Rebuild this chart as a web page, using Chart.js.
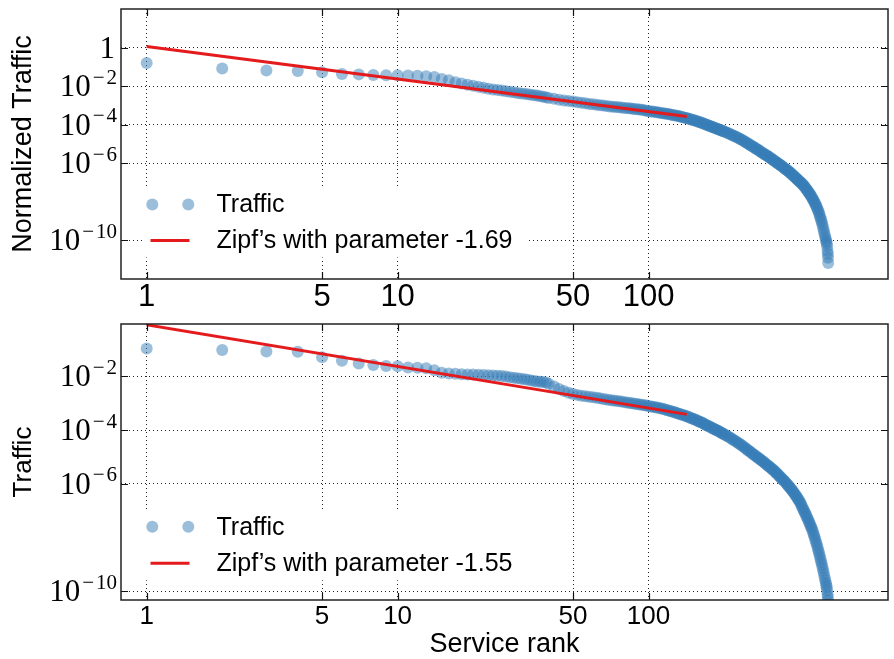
<!DOCTYPE html>
<html lang="en">
<head>
    <meta charset="UTF-8">
    <title>Service rank vs traffic</title>
    <script src="https://cdn.jsdelivr.net/npm/chart.js"></script>
    <style>
        * { margin: 0; padding: 0; box-sizing: border-box; }
        body { background: #fff; width: 894px; height: 659px; overflow: hidden; }
        canvas { display: block; }
    </style>
</head>
<body>
    <canvas id="topChart" width="894" height="312"></canvas>
    <canvas id="bottomChart" width="894" height="347"></canvas>

    <script>
        const ranks = [
            1, 2, 3, 4, 5, 6, 7, 8, 9, 10,
            11, 12, 13, 14, 15, 16, 17, 18, 19, 20,
            21, 22, 23, 24, 25, 26, 27, 28, 29, 30,
            31, 32, 33, 34, 35, 36, 37, 38, 39, 40,
            42, 44, 46, 48, 50, 52, 54, 56, 58, 60,
            62, 64, 66, 68, 70, 72, 74, 76, 78, 80,
            82, 84, 86, 88, 90, 92, 94, 96, 98, 100,
            102, 104, 106, 108, 110, 112, 114, 116, 118, 120,
            122, 124, 126, 128, 130, 132, 134, 136, 138, 140,
            142, 144, 146, 148, 150, 152, 154, 156, 158, 160,
            162, 164, 166, 168, 170, 172, 174, 176, 178, 180,
            182, 184, 186, 188, 190, 192, 194, 196, 198, 200,
            203, 206, 209, 212, 215, 218, 221, 224, 227, 230,
            233, 236, 239, 242, 245, 248, 251, 254, 257, 260,
            263, 266, 269, 272, 275, 278, 281, 284, 287, 290,
            293, 296, 299, 302, 305, 308, 311, 314, 317, 320,
            323, 326, 329, 332, 335, 338, 341, 344, 347, 350,
            353, 356, 359, 362, 365, 368, 371, 374, 377, 380,
            383, 386, 389, 392, 395, 398, 401, 404, 407, 410,
            413, 416, 419, 422, 425, 428, 431, 434, 437, 440,
            443, 446, 449, 452, 455, 458, 461, 464, 467, 470,
            473, 476, 479, 482, 485, 488, 491, 494, 497, 500,
            503, 506, 509, 511, 513, 515, 517, 518, 519, 520
        ];

        // log10 of normalized traffic (top panel)
        const normTrafficLog = [
            -0.80, -1.09, -1.19, -1.21, -1.28, -1.37, -1.39, -1.42, -1.43, -1.44,
            -1.45, -1.46, -1.49, -1.53, -1.63, -1.70, -1.80, -1.86, -1.93, -1.98,
            -2.03, -2.08, -2.13, -2.17, -2.20, -2.23, -2.26, -2.29, -2.32, -2.35,
            -2.38, -2.40, -2.42, -2.45, -2.47, -2.49, -2.52, -2.55, -2.58, -2.61,
            -2.66, -2.71, -2.74, -2.77, -2.80, -2.83, -2.86, -2.89, -2.92, -2.94,
            -2.97, -2.99, -3.01, -3.03, -3.05, -3.07, -3.08, -3.10, -3.11, -3.13,
            -3.14, -3.15, -3.17, -3.18, -3.20, -3.21, -3.23, -3.25, -3.27, -3.29,
            -3.31, -3.32, -3.34, -3.35, -3.37, -3.39, -3.40, -3.42, -3.43, -3.45,
            -3.47, -3.49, -3.51, -3.52, -3.54, -3.56, -3.58, -3.60, -3.62, -3.64,
            -3.66, -3.68, -3.70, -3.73, -3.75, -3.77, -3.80, -3.82, -3.85, -3.87,
            -3.89, -3.92, -3.94, -3.97, -4.00, -4.02, -4.05, -4.07, -4.10, -4.12,
            -4.14, -4.17, -4.19, -4.22, -4.24, -4.26, -4.29, -4.31, -4.33, -4.35,
            -4.39, -4.42, -4.46, -4.49, -4.53, -4.57, -4.60, -4.64, -4.68, -4.72,
            -4.76, -4.79, -4.83, -4.88, -4.92, -4.96, -5.00, -5.05, -5.09, -5.13,
            -5.17, -5.21, -5.26, -5.29, -5.33, -5.37, -5.41, -5.45, -5.49, -5.53,
            -5.57, -5.60, -5.64, -5.67, -5.71, -5.75, -5.79, -5.83, -5.87, -5.91,
            -5.95, -5.99, -6.02, -6.05, -6.09, -6.13, -6.16, -6.20, -6.24, -6.28,
            -6.32, -6.35, -6.39, -6.43, -6.47, -6.50, -6.54, -6.59, -6.63, -6.67,
            -6.71, -6.75, -6.80, -6.84, -6.88, -6.92, -6.96, -7.00, -7.04, -7.08,
            -7.12, -7.17, -7.22, -7.28, -7.33, -7.38, -7.44, -7.49, -7.55, -7.60,
            -7.67, -7.73, -7.80, -7.87, -7.94, -8.01, -8.09, -8.16, -8.24, -8.33,
            -8.42, -8.51, -8.62, -8.74, -8.85, -8.97, -9.09, -9.23, -9.38, -9.52,
            -9.68, -9.82, -9.95, -10.05, -10.15, -10.30, -10.55, -10.70, -10.90, -11.17
        ];

        // log10 of traffic (bottom panel)
        const trafficLog = [
            -0.96, -1.02, -1.07, -1.08, -1.29, -1.42, -1.52, -1.58, -1.61, -1.62,
            -1.67, -1.68, -1.70, -1.77, -1.87, -1.89, -1.90, -1.92, -1.93, -1.93,
            -1.94, -1.95, -1.96, -1.97, -1.98, -1.99, -2.01, -2.03, -2.05, -2.07,
            -2.09, -2.11, -2.13, -2.15, -2.17, -2.19, -2.20, -2.21, -2.23, -2.28,
            -2.38, -2.47, -2.55, -2.61, -2.66, -2.69, -2.72, -2.74, -2.76, -2.78,
            -2.80, -2.82, -2.84, -2.86, -2.88, -2.90, -2.91, -2.93, -2.94, -2.96,
            -2.97, -2.99, -3.00, -3.02, -3.03, -3.05, -3.06, -3.08, -3.09, -3.10,
            -3.12, -3.13, -3.15, -3.16, -3.18, -3.20, -3.21, -3.23, -3.25, -3.27,
            -3.29, -3.31, -3.33, -3.35, -3.37, -3.39, -3.41, -3.43, -3.45, -3.47,
            -3.49, -3.51, -3.53, -3.56, -3.58, -3.60, -3.62, -3.64, -3.67, -3.69,
            -3.71, -3.74, -3.76, -3.79, -3.82, -3.84, -3.86, -3.88, -3.91, -3.93,
            -3.95, -3.98, -4.00, -4.02, -4.04, -4.06, -4.09, -4.11, -4.14, -4.16,
            -4.19, -4.22, -4.26, -4.29, -4.33, -4.37, -4.40, -4.44, -4.47, -4.51,
            -4.55, -4.58, -4.62, -4.66, -4.70, -4.74, -4.77, -4.81, -4.85, -4.88,
            -4.92, -4.95, -4.99, -5.02, -5.05, -5.09, -5.12, -5.15, -5.18, -5.22,
            -5.26, -5.29, -5.32, -5.36, -5.39, -5.42, -5.45, -5.49, -5.52, -5.56,
            -5.60, -5.63, -5.67, -5.71, -5.75, -5.79, -5.82, -5.86, -5.89, -5.93,
            -5.97, -6.01, -6.05, -6.09, -6.13, -6.17, -6.21, -6.26, -6.30, -6.34,
            -6.39, -6.44, -6.48, -6.53, -6.58, -6.63, -6.68, -6.74, -6.81, -6.88,
            -6.94, -7.00, -7.06, -7.12, -7.18, -7.25, -7.31, -7.38, -7.44, -7.51,
            -7.58, -7.64, -7.71, -7.79, -7.88, -7.96, -8.05, -8.14, -8.23, -8.32,
            -8.42, -8.51, -8.62, -8.72, -8.82, -8.92, -9.03, -9.14, -9.25, -9.36,
            -9.48, -9.59, -9.70, -9.78, -9.86, -9.98, -10.12, -10.22, -10.35, -10.50
        ];

        // Zipf fits, drawn from rank 1 to the end of the red line
        const zipfRanks = [1, 142];
        const zipfTop = [1.15, 2.65e-4];
        const zipfBottom = [0.83, 3.84e-4];

        const xTicks = [1, 5, 10, 50, 100];
        const yTicksTop = [1, 1e-2, 1e-4, 1e-6, 1e-10];
        const yTicksBottom = [1e-2, 1e-4, 1e-6, 1e-10];

        const BLUE = 'rgba(55, 126, 184, 0.5)';
        const RED = '#e41a1c';
        const SANS = "'Liberation Sans', Arial, sans-serif";
        const SERIF = "'Liberation Serif', 'DejaVu Serif', serif";

        // y tick labels as 10^n, tick marks, frame and legend
        const decor = {
            id: 'decor',
            afterDatasetsDraw(chart, args, o) {
                const ctx = chart.ctx, a = chart.chartArea;
                const r1 = a.bottom - o.rows[0], r2 = a.bottom - o.rows[1];
                ctx.save();
                ctx.fillStyle = '#fff';
                ctx.fillRect(142, r1 - 17, 384, r2 - r1 + 34);

                ctx.fillStyle = BLUE;
                [152.3, 188.3].forEach(px => {
                    ctx.beginPath();
                    ctx.arc(px, r1, 6, 0, Math.PI * 2);
                    ctx.fill();
                });
                ctx.strokeStyle = RED;
                ctx.lineWidth = 3;
                ctx.beginPath();
                ctx.moveTo(150.5, r2);
                ctx.lineTo(189.5, r2);
                ctx.stroke();

                ctx.fillStyle = '#000';
                ctx.font = '25px ' + SANS;
                ctx.textBaseline = 'middle';
                ctx.textAlign = 'left';
                ctx.fillText(o.labels[0], 216.5, r1 + 1);
                ctx.fillText(o.labels[1], 216.5, r2 + 1);
                ctx.restore();
            },
            afterDraw(chart, args, o) {
                const ctx = chart.ctx, a = chart.chartArea;
                const xs = chart.scales.x, ys = chart.scales.y;
                ctx.save();

                // tick marks, inside on all sides
                ctx.strokeStyle = '#111';
                ctx.lineWidth = 1.2;
                ctx.beginPath();
                xTicks.forEach(v => {
                    const px = Math.round(xs.getPixelForValue(v)) + 0.5;
                    ctx.moveTo(px, a.bottom); ctx.lineTo(px, a.bottom - 7);
                    ctx.moveTo(px, a.top); ctx.lineTo(px, a.top + 7);
                });
                o.yTicks.forEach(v => {
                    const py = Math.round(ys.getPixelForValue(v)) + 0.5;
                    ctx.moveTo(a.left, py); ctx.lineTo(a.left + 7, py);
                    ctx.moveTo(a.right, py); ctx.lineTo(a.right - 7, py);
                });
                ctx.stroke();

                // frame
                ctx.strokeStyle = '#222';
                ctx.lineWidth = 1.5;
                ctx.strokeRect(a.left, a.top, a.right - a.left, a.bottom - a.top);

                // y tick labels
                ctx.fillStyle = '#000';
                ctx.textBaseline = 'alphabetic';
                o.yTicks.forEach(v => {
                    const py = ys.getPixelForValue(v);
                    const e = Math.round(Math.log10(v));
                    if (e === 0) {
                        ctx.font = '31px ' + SERIF;
                        ctx.textAlign = 'right';
                        ctx.fillText('1', 115, py + 10);
                        return;
                    }
                    const digits = String(Math.abs(e));
                    ctx.font = '21px ' + SERIF;
                    const dw = ctx.measureText(digits).width;
                    const mw = ctx.measureText('\u2212').width;
                    ctx.font = '31px ' + SERIF;
                    const bw = ctx.measureText('10').width;
                    const right = 117;
                    const xDigits = right - dw;
                    const xMinus = xDigits - 2 - mw;
                    const xBase = xMinus - 2 - bw;
                    ctx.textAlign = 'left';
                    ctx.fillText('10', xBase, py + 10);
                    ctx.font = '21px ' + SERIF;
                    ctx.fillText('\u2212', xMinus, py - 2.5);
                    ctx.fillText(digits, xDigits, py - 2.5);
                });
                ctx.restore();
            }
        };

        function makeChart(id, cfg) {
            const points = ranks.map((r, i) => ({ x: r, y: Math.pow(10, cfg.values[i]) }));
            const zipf = zipfRanks.map((r, i) => ({ x: r, y: cfg.zipf[i] }));
            return new Chart(document.getElementById(id), {
                type: 'scatter',
                data: {
                    datasets: [{
                        label: cfg.labels[1],
                        data: zipf,
                        showLine: true,
                        borderColor: RED,
                        borderWidth: 3,
                        pointRadius: 0,
                        clip: 0
                    }, {
                        label: cfg.labels[0],
                        data: points,
                        backgroundColor: BLUE,
                        borderWidth: 0,
                        pointRadius: 6,
                        clip: 0
                    }]
                },
                options: {
                    responsive: false,
                    devicePixelRatio: 1,
                    animation: false,
                    events: [],
                    layout: { padding: { top: cfg.padTop, right: 3, left: 0, bottom: 0 } },
                    plugins: {
                        legend: { display: false },
                        tooltip: { enabled: false },
                        decor: { labels: cfg.labels, rows: cfg.rows, yTicks: cfg.yTicks }
                    },
                    scales: {
                        x: {
                            type: 'logarithmic',
                            min: 0.79,
                            max: 900,
                            afterBuildTicks: s => { s.ticks = xTicks.map(v => ({ value: v })); },
                            afterFit: s => { s.height = cfg.xHeight; },
                            ticks: {
                                autoSkip: false,
                                maxRotation: 0,
                                padding: cfg.xPad,
                                color: '#000',
                                font: { family: SANS, size: cfg.xFont, lineHeight: 1 },
                                callback: v => String(v)
                            },
                            grid: { color: '#222', lineWidth: 1, drawTicks: false },
                            border: { display: false, dash: [1, 3] },
                            title: {
                                display: !!cfg.xTitle,
                                text: cfg.xTitle || '',
                                color: '#000',
                                font: { family: SANS, size: 27, lineHeight: 1 },
                                padding: { top: 0, bottom: 1 }
                            }
                        },
                        y: {
                            type: 'logarithmic',
                            min: cfg.yMin,
                            max: cfg.yMax,
                            afterBuildTicks: s => { s.ticks = cfg.yTicks.map(v => ({ value: v })); },
                            afterFit: s => { s.width = 121; },
                            ticks: { display: false },
                            grid: { color: '#222', lineWidth: 1, drawTicks: false },
                            border: { display: false, dash: [1, 3] },
                            title: {
                                display: true,
                                text: cfg.yTitle,
                                color: '#000',
                                font: { family: SANS, size: cfg.yTitleSize, lineHeight: 1 },
                                padding: { top: 24 - cfg.yTitleSize / 2, bottom: 0 }
                            }
                        }
                    }
                },
                plugins: [decor]
            });
        }

        makeChart('topChart', {
            values: normTrafficLog,
            zipf: zipfTop,
            labels: ['Traffic', 'Zipf\u2019s with parameter -1.69'],
            rows: [74.5, 38.5],
            yTicks: yTicksTop,
            yMin: 1e-12,
            yMax: 1e2,
            yTitle: 'Normalized Traffic',
            yTitleSize: 27,
            padTop: 9,
            xHeight: 33,
            xPad: 3,
            xFont: 31
        });

        makeChart('bottomChart', {
            values: trafficLog,
            zipf: zipfBottom,
            labels: ['Traffic', 'Zipf\u2019s with parameter -1.55'],
            rows: [73.3, 36.7],
            yTicks: yTicksBottom,
            yMin: Math.pow(10, -10.33),
            yMax: Math.pow(10, -0.05),
            yTitle: 'Traffic',
            yTitleSize: 26,
            xTitle: 'Service rank',
            padTop: 12,
            xHeight: 59,
            xPad: 4,
            xFont: 26
        });
    </script>
</body>
</html>
